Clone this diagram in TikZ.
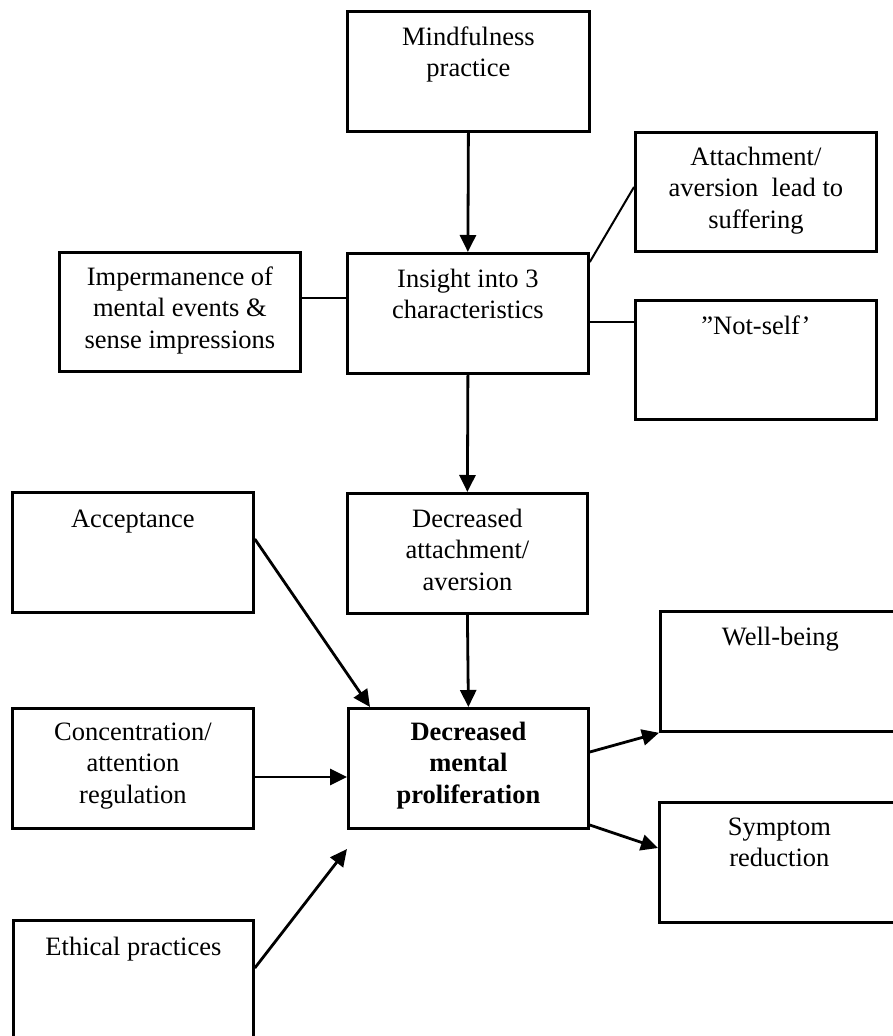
\documentclass[tikz,border=0pt]{standalone}
\usepackage{fontspec}
\setmainfont{Liberation Serif}
\usetikzlibrary{arrows.meta,calc}
\begin{document}
\begin{tikzpicture}[x=1pt,y=-1pt,
  box/.style={draw=black,line width=2.8pt,minimum width=#1,anchor=north west,inner sep=0pt},
  txt/.style={align=center,anchor=base,inner sep=0pt,font=\fontsize{26.5}{31.5}\selectfont},
  link/.style={draw=black,line width=2pt},
  arr/.style={draw=black,line width=2.8pt,-{Triangle[length=17pt,width=16pt]}},
  ]
\useasboundingbox (0,0) rectangle (893,1036);
% boxes
\node[box=242pt,minimum height=120pt] (mind) at (346,10) {};
\node[box=241pt,minimum height=120pt] (ins) at (346,252) {};
\node[box=241pt,minimum height=119pt] (att) at (634,131) {};
\node[box=241pt,minimum height=119pt] (nots) at (634,299) {};
\node[box=241pt,minimum height=119pt] (imp) at (58,251) {};
\node[box=241pt,minimum height=120pt] (acc) at (11,491) {};
\node[box=240pt,minimum height=120pt] (decatt) at (346,492) {};
\node[box=240pt,minimum height=120pt] (decm) at (347,707) {};
\node[box=241pt,minimum height=120pt] (conc) at (11,707) {};
\node[box=240pt,minimum height=125pt] (eth) at (12,919) {};
\node[box=240pt,minimum height=120pt] (well) at (659,610) {};
\node[box=240pt,minimum height=120pt] (symp) at (658,801) {};
% texts (base anchor = baseline of last line)
\node[txt] (mindT) at ($(mind.north)+(0,35+31.5)$) {Mindfulness\\practice};
\node[txt] (insT) at ($(ins.north)+(0,35+31.5)$) {Insight into 3\\characteristics};
\node[txt] (attT) at ($(att.north)+(0,34+63)$) {Attachment/\\aversion~ lead to\\suffering};
\node[txt] (notsT) at ($(nots.north)+(0,35)$) {”Not-self’};
\node[txt] (impT) at ($(imp.north)+(0,34+63)$) {Impermanence of\\mental events \&\\sense impressions};
\node[txt] (accT) at ($(acc.north)+(0,36)$) {Acceptance};
\node[txt] (decattT) at ($(decatt.north)+(0,35+63)$) {Decreased\\attachment/\\aversion};
\node[txt] (decmT) at ($(decm.north)+(0,35+61)$) {\textbf{Decreased}\\\textbf{mental}\\\textbf{proliferation}};
\node[txt] (concT) at ($(conc.north)+(0,33+63)$) {Concentration/\\attention\\regulation};
\node[txt] (ethT) at ($(eth.north)+(0,36)$) {Ethical practices};
\node[txt] (wellT) at ($(well.north)+(0,35)$) {Well-being};
\node[txt] (sympT) at ($(symp.north)+(0,34+31.5)$) {Symptom\\reduction};
% connectors
\draw[arr] (mind.south) -- (ins.north);
\draw[link] ([yshift=-10pt]ins.north east) -- ([yshift=-56pt]att.north west);
\draw[link] ([yshift=-70pt]ins.north east) -- ([yshift=-23pt]nots.north west);
\draw[link] ([yshift=-47pt]imp.north east) -- ([yshift=-46pt]ins.north west);
\draw[arr] (ins.south) -- (decatt.north);
\draw[arr] (decatt.south) -- (decm.north);
\draw[arr] ([yshift=-48pt]acc.north east) -- ([xshift=23pt]decm.north west);
\draw[arr] ([yshift=-70pt]conc.north east) -- ([yshift=-70pt]decm.north west);
\draw[arr] ([yshift=-49pt]eth.north east) -- ([yshift=-142pt]decm.north west);
\draw[arr] ([yshift=-45pt]decm.north east) -- (well.south west);
\draw[arr] ([yshift=-118pt]decm.north east) -- ([yshift=-47pt]symp.north west);
\end{tikzpicture}
\end{document}
